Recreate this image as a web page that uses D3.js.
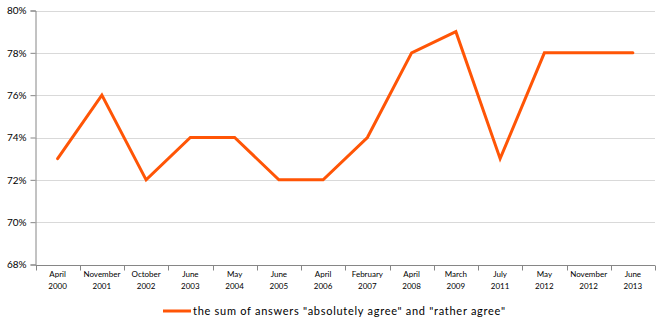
<!DOCTYPE html>
<html>
<head>
<meta charset="utf-8">
<script src="https://cdn.jsdelivr.net/npm/d3@7"></script>
<style>
  html, body { margin: 0; padding: 0; background: #fff; }
  svg text { font-family: Lato, "Open Sans", sans-serif; fill: #000; }
</style>
</head>
<body>
<svg id="chart" width="660" height="325"></svg>
<script>
// Survey waves (two-line labels: month / year)
const months = ["April","November","October","June","May","June","April","February","April","March","July","May","November","June"];
const years  = ["2000","2001","2002","2003","2004","2005","2006","2007","2008","2009","2011","2012","2012","2013"];
// Share of "absolutely agree" + "rather agree", percent
const agreeShare = [73,76,72,74,74,72,72,74,78,79,73,78,78,78];
const yTicks = [68,70,72,74,76,78,80];
const seriesName = 'the sum of answers "absolutely agree" and "rather agree"';

const svg = d3.select("#chart");
const margin = {left: 35.5, right: 5, top: 10, bottom: 61};
const W = 660, H = 325;
const x0 = margin.left, x1 = W - margin.right;
const y0 = H - margin.bottom, y1 = margin.top;

const keys = months.map((m, i) => i);
const x = d3.scaleBand().domain(keys).range([x0, x1]);
const y = d3.scaleLinear().domain([68, 80]).range([y0 + 0.5, y1 + 0.5]);

// horizontal gridlines
svg.append("g").selectAll("line").data(yTicks.filter(t => t > 68)).join("line")
  .attr("x1", x0).attr("x2", x1)
  .attr("y1", d => Math.round(y(d)) + 0.5).attr("y2", d => Math.round(y(d)) + 0.5)
  .attr("stroke", "#d9d9d9").attr("stroke-width", 1);

// y axis
const yAxis = d3.axisLeft(y).tickValues(yTicks).tickSize(5).tickFormat(d => d + "%");
const gy = svg.append("g").attr("transform", `translate(${x0},0)`).call(yAxis);
gy.select(".domain").attr("stroke", "#868686");
gy.selectAll(".tick line").attr("stroke", "#868686");
gy.selectAll(".tick text").attr("x", -9).attr("font-size", 10).attr("fill", "#000");

// x axis with ticks at band boundaries
const gx = svg.append("g");
gx.append("line").attr("x1", x0).attr("x2", x1)
  .attr("y1", Math.round(y(68)) + 0.5).attr("y2", Math.round(y(68)) + 0.5)
  .attr("stroke", "#868686");
const bounds = keys.map(k => x(k)).concat([x1]);
gx.selectAll("line.tk").data(bounds).join("line").attr("class", "tk")
  .attr("x1", d => Math.round(d) + 0.5).attr("x2", d => Math.round(d) + 0.5)
  .attr("y1", Math.round(y(68)) + 0.5).attr("y2", Math.round(y(68)) + 5.5)
  .attr("stroke", "#868686");
const lbl = gx.selectAll("text").data(keys).join("text")
  .attr("text-anchor", "middle")
  .attr("font-size", 8);
lbl.append("tspan").attr("x", k => x(k) + x.bandwidth() / 2).attr("y", 277).text(k => months[k]);
lbl.append("tspan").attr("x", k => x(k) + x.bandwidth() / 2).attr("y", 289).text(k => years[k]);

// series line
const line = d3.line().x((d, i) => x(i) + x.bandwidth() / 2).y(d => y(d));
svg.append("path").datum(agreeShare)
  .attr("d", line).attr("fill", "none")
  .attr("stroke", "#ff5506").attr("stroke-width", 3)
  .attr("stroke-linejoin", "miter").attr("stroke-linecap", "round");

// legend
const lg = svg.append("g").attr("transform", "translate(163,311)");
lg.append("line").attr("x1", 0).attr("x2", 28).attr("y1", 0).attr("y2", 0)
  .attr("stroke", "#ff5506").attr("stroke-width", 3);
lg.append("text").attr("x", 30).attr("y", 4).attr("font-size", 11)
  .attr("textLength", 312).attr("lengthAdjust", "spacing")
  .text(seriesName);
</script>
</body>
</html>
